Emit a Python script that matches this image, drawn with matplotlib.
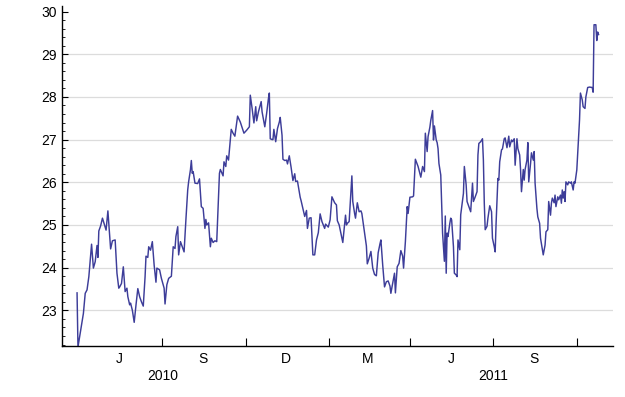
import numpy as np
import pandas as pd
import matplotlib
matplotlib.use("Agg")
import matplotlib.pyplot as plt
import matplotlib.dates as mdates
import matplotlib.transforms as mtransforms

# ---------------- data ----------------
START = pd.Timestamp("2010-04-01")

# days since START
days = [
    28, 29, 35, 37, 39, 41, 44, 46, 48, 50, 51, 52, 54, 56, 58, 60, 62, 65, 67, 70,
    72, 74, 75, 77, 79, 81, 83, 84, 86, 87, 89, 91, 93, 95, 97, 99, 101, 103, 104, 106,
    107, 109, 111, 113, 115, 116, 119, 121, 124, 125, 127, 129, 132, 134, 136, 137, 139, 140, 142, 144,
    146, 148, 150, 151, 153, 154, 155, 156, 158, 161, 163, 165, 167, 169, 170, 171, 173, 175, 176, 178,
    180, 182, 185, 186, 189, 190, 192, 193, 195, 198, 200, 202, 205, 208, 212, 215, 218, 219, 221, 223,
    225, 226, 228, 231, 232, 235, 237, 239, 240, 241, 243, 244, 245, 247, 249, 251, 252, 254, 255, 257,
    259, 260, 262, 264, 266, 268, 269, 271, 274, 275, 277, 279, 281, 282, 284, 286, 288, 290, 292, 294,
    296, 298, 301, 302, 305, 307, 309, 312, 314, 315, 317, 319, 321, 324, 325, 326, 328, 331, 332, 334,
    335, 337, 339, 341, 342, 345, 347, 348, 350, 352, 354, 356, 358, 360, 362, 363, 365, 367, 369, 371,
    373, 374, 376, 378, 379, 381, 383, 385, 387, 388, 390, 392, 393, 395, 398, 399, 401, 404, 406, 407,
    409, 411, 412, 414, 415, 417, 418, 420, 421, 422, 424, 425, 426, 427, 429, 430, 431, 433, 434, 435,
    436, 437, 439, 440, 441, 443, 444, 446, 447, 448, 450, 451, 454, 455, 457, 458, 460, 462, 464, 465,
    467, 469, 470, 471, 473, 475, 476, 477, 478, 480, 481, 483, 485, 486, 488, 489, 490, 492, 493, 494,
    496, 497, 499, 500, 502, 504, 505, 507, 508, 510, 511, 513, 514, 516, 517, 518, 520, 521, 522, 524,
    525, 526, 528, 529, 531, 532, 533, 535, 536, 538, 539, 541, 542, 544, 545, 547, 548, 550, 551, 552,
    554, 555, 556, 558, 559, 561, 562, 563, 564, 565, 566, 567, 569, 570, 572, 573, 575, 576, 577, 579,
    580, 582, 583, 585, 586, 588, 589, 591, 593, 596, 597, 598, 600, 601, 602, 603,
]

values = [
    23.41, 22.14, 22.93, 23.40, 23.48, 23.79, 24.55, 23.99, 24.14, 24.52, 24.24, 24.86, 24.98, 25.16, 25.02, 24.88, 25.33, 24.44, 24.63, 24.65,
    23.87, 23.52, 23.55, 23.63, 24.02, 23.44, 23.52, 23.32, 23.13, 23.17, 23.00, 22.72, 23.13, 23.51, 23.32, 23.20, 23.10, 23.79, 24.27, 24.24,
    24.49, 24.41, 24.61, 24.06, 23.66, 23.99, 23.95, 23.75, 23.52, 23.15, 23.60, 23.75, 23.80, 24.49, 24.45, 24.73, 24.96, 24.30, 24.61, 24.49,
    24.37, 25.12, 25.82, 26.01, 26.29, 26.51, 26.21, 26.25, 25.98, 25.97, 26.08, 25.43, 25.39, 24.92, 25.13, 25.00, 25.05, 24.49, 24.69, 24.59,
    24.63, 24.61, 26.21, 26.30, 26.15, 26.48, 26.37, 26.62, 26.52, 27.24, 27.15, 27.08, 27.55, 27.41, 27.15, 27.22, 27.30, 28.04, 27.73, 27.39,
    27.77, 27.44, 27.65, 27.89, 27.65, 27.30, 27.61, 27.96, 28.09, 27.02, 27.00, 27.00, 27.24, 26.95, 27.26, 27.41, 27.52, 27.10, 26.54, 26.51,
    26.52, 26.43, 26.62, 26.35, 26.04, 26.20, 26.02, 26.03, 25.65, 25.57, 25.39, 25.20, 25.34, 24.92, 25.16, 25.17, 24.30, 24.30, 24.65, 24.82,
    25.26, 25.08, 24.92, 25.02, 24.95, 25.12, 25.66, 25.52, 25.47, 25.10, 25.00, 24.79, 24.59, 25.23, 25.00, 25.04, 25.08, 26.15, 25.55, 25.27,
    25.16, 25.52, 25.31, 25.33, 25.27, 24.82, 24.51, 24.09, 24.22, 24.38, 23.99, 23.84, 23.81, 24.35, 24.56, 24.65, 24.06, 23.55, 23.67, 23.69,
    23.57, 23.40, 23.63, 23.87, 23.41, 24.02, 24.10, 24.40, 24.27, 23.99, 24.61, 25.43, 25.27, 25.65, 25.66, 25.68, 26.54, 26.37, 26.21, 26.12,
    26.37, 26.25, 27.15, 26.72, 27.07, 27.29, 27.45, 27.68, 26.99, 27.32, 26.99, 26.93, 26.79, 26.44, 26.17, 25.47, 24.81, 24.15, 25.21, 23.87,
    24.81, 24.73, 25.04, 25.16, 25.12, 24.49, 23.87, 23.83, 23.79, 24.65, 24.42, 25.24, 25.74, 26.37, 25.94, 25.55, 25.43, 25.31, 25.98, 25.55,
    25.66, 25.78, 26.64, 26.91, 26.95, 27.02, 26.52, 25.51, 24.89, 24.97, 25.16, 25.45, 25.31, 24.69, 24.49, 24.37, 25.04, 26.09, 26.05, 26.48,
    26.76, 26.78, 27.02, 27.04, 26.81, 27.08, 26.83, 26.99, 26.95, 27.02, 26.40, 27.02, 26.79, 26.64, 26.29, 25.78, 26.30, 26.05, 26.30, 26.52,
    26.93, 26.01, 26.44, 26.69, 26.52, 26.72, 25.98, 25.39, 25.19, 25.04, 24.69, 24.42, 24.30, 24.53, 24.84, 24.89, 25.55, 25.23, 25.51, 25.63,
    25.52, 25.70, 25.43, 25.66, 25.59, 25.70, 25.51, 25.82, 25.63, 25.78, 25.55, 26.01, 25.94, 26.01, 25.98, 26.01, 25.82, 26.01, 25.98, 26.29,
    26.68, 27.46, 28.09, 27.93, 27.77, 27.73, 28.00, 28.22, 28.23, 28.22, 28.11, 29.69, 29.69, 29.32, 29.52, 29.46,
]

# axis ticks / labels
quarter_ticks = ["2010-08-01", "2010-11-01", "2011-02-01", "2011-05-01", "2011-08-01", "2011-11-01"]
month_pos = ["2010-06-15", "2010-09-15", "2010-12-15", "2011-03-15", "2011-06-15", "2011-09-15"]
month_labels = ["J", "S", "D", "M", "J", "S"]
year_pos = ["2010-08-01", "2011-08-01"]
year_labels = ["2010", "2011"]
y_major = [23, 24, 25, 26, 27, 28, 29, 30]
y_grid = [23, 24, 25, 26, 27, 28, 29]

LINE_COLOR = "#3d3d99"
FONT = ["Liberation Sans", "DejaVu Sans"]

plt.rcParams["font.family"] = FONT
plt.rcParams["font.size"] = 10

dates = START + pd.to_timedelta(days, unit="D")

fig = plt.figure(figsize=(6.25, 3.97), dpi=100)
ax = fig.add_axes([0.0992, 0.1285, 0.8813, 0.8565])

for g in y_grid:
    ax.axhline(g, color="#dcdcdc", lw=0.9, zorder=0)

ax.plot(dates, values, color=LINE_COLOR, lw=1.05, zorder=2)

ax.set_xlim(START + pd.Timedelta(days=11.4), START + pd.Timedelta(days=618.7))
ax.set_ylim(22.166, 30.13)

# x axis: quarter ticks, month labels in between
ax.set_xticks(pd.to_datetime(quarter_ticks))
ax.set_xticklabels([""] * len(quarter_ticks))
ax.set_xticks(pd.to_datetime(month_pos), minor=True)
ax.set_xticklabels(month_labels, minor=True)
ax.tick_params(axis="x", which="major", direction="in", length=6, width=0.8, color="black")
ax.tick_params(axis="x", which="minor", length=0, pad=4.5, labelsize=10)

trans = mtransforms.blended_transform_factory(ax.transData, ax.transAxes)
for pos, lab in zip(year_pos, year_labels):
    ax.text(mdates.date2num(pd.Timestamp(pos)), -0.088, lab, transform=trans,
            ha="center", va="center", fontsize=10)

# y axis
ax.set_yticks(y_major)
ax.set_yticks(np.arange(22.2, 30.05, 0.2), minor=True)
ax.tick_params(axis="y", which="major", direction="in", length=4.5, width=0.8, pad=4, labelsize=10)
ax.tick_params(axis="y", which="minor", direction="in", length=2.5, width=0.6)

for side in ["top", "right"]:
    ax.spines[side].set_visible(False)
for side in ["left", "bottom"]:
    ax.spines[side].set_linewidth(1.0)

fig.savefig("out.png", dpi=100)
